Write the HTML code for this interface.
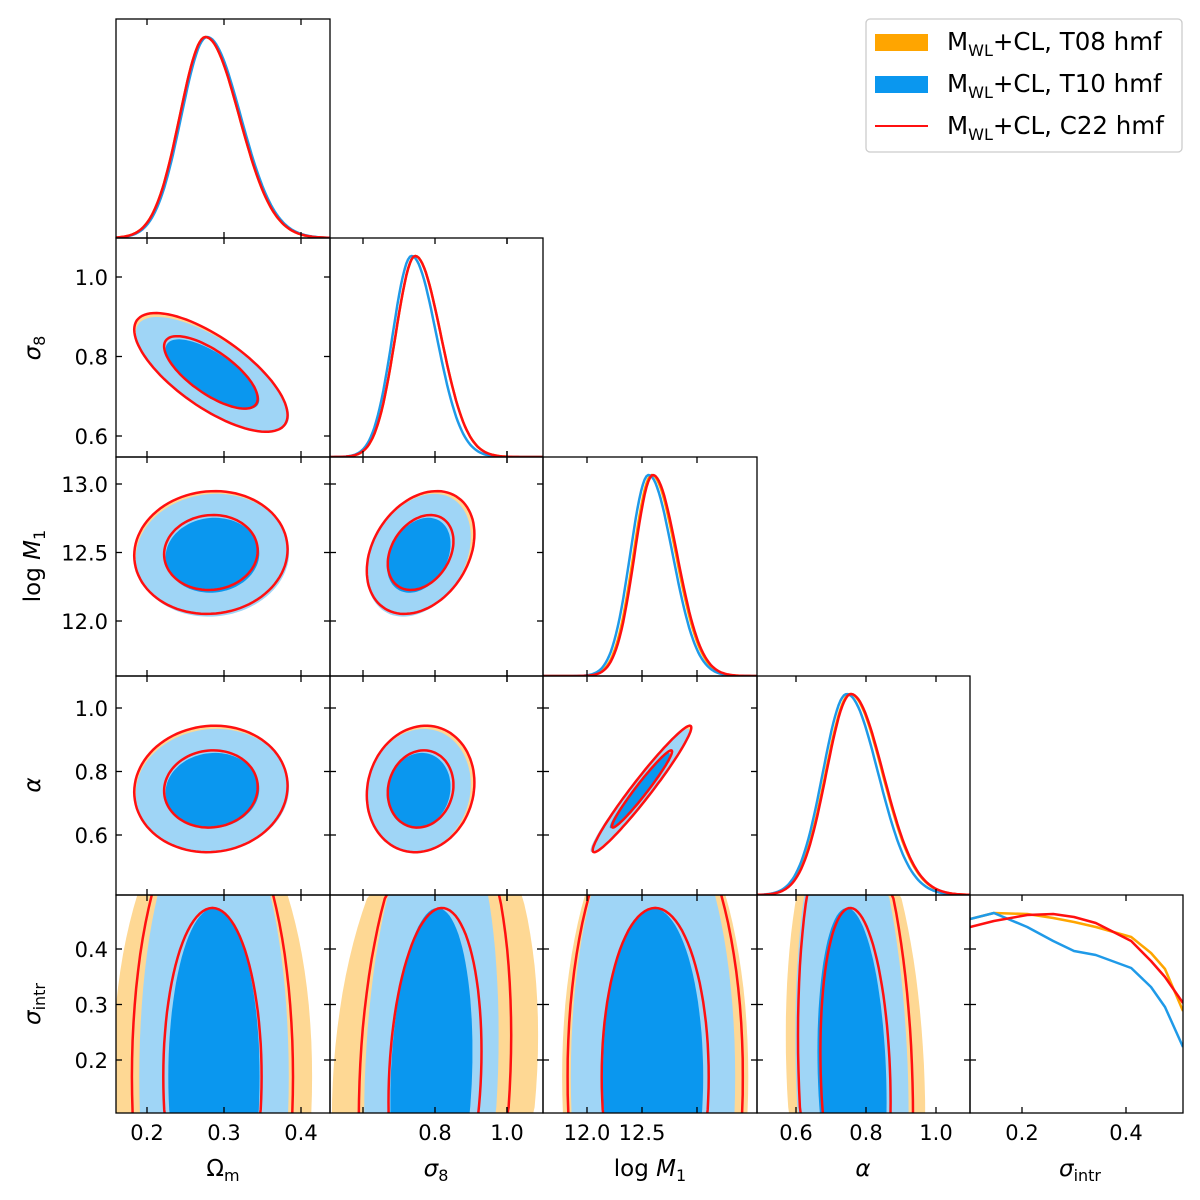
<!DOCTYPE html>
<html><head><meta charset="utf-8"><style>
html,body{margin:0;padding:0;background:#fff;width:1200px;height:1200px;overflow:hidden;position:relative}
svg{display:block;position:absolute;left:0;top:0}
svg text{font-family:"DejaVu Sans","Liberation Sans",sans-serif;fill:#000}
</style></head><body>
<svg id="fig" width="1200" height="1200" viewBox="0 0 1200 1200" xmlns="http://www.w3.org/2000/svg"></svg>
<script>
// ---- data ----
const paramNames = ['Om','s8','M1','al','si'];
const seriesNames = ['T08','T10','C22'];
// 2D contour centres
const muOm = [0.283, 0.285, 0.283];
const muS8 = [0.76, 0.755, 0.76];
const muM1 = [12.50, 12.48, 12.50];
const muAl = [0.745, 0.74, 0.745];
const muSi = [0.17, 0.17, 0.17];
const sdOm = [0.040, 0.040, 0.040];
const sdS8 = [0.060, 0.058, 0.060];
const sdM1 = [0.18, 0.18, 0.18];
const sdAl = [0.08, 0.078, 0.08];
const sdSi = [0.2, 0.2, 0.2];
// 1D marginal peaks / widths
const margMuOm = [0.276, 0.278, 0.276];
const margMuS8 = [0.745, 0.735, 0.745];
const margMuM1 = [12.59, 12.56, 12.60];
const margMuAl = [0.755, 0.745, 0.757];
const margSdOm = [0.038, 0.038, 0.038];
const margSdS8 = [0.062, 0.060, 0.062];
const margSdM1 = [0.19, 0.19, 0.19];
const margSdAl = [0.08, 0.078, 0.08];
// bottom-row (sigma_intr) widths / centres per column
const botMuOm=[0.285,0.287,0.285], botMuS8=[0.80,0.79,0.80], botMuM1=[12.62,12.60,12.62], botMuAl=[0.77,0.76,0.77];
const botSdOm=[0.052,0.039,0.042], botSdS8=[0.115,0.075,0.085], botSdM1=[0.34,0.30,0.32], botSdAl=[0.08,0.065,0.066];
// correlation per panel [col,row] and series
const pairCols = [0,0,1,0,1,2,0,1,2,3];
const pairRows = [1,2,2,3,3,3,4,4,4,4];
const rhoT08 = [-0.72,0.05,0.30,0.05,0.10,0.97,0,0.15,0,-0.15];
const rhoT10 = [-0.72,0.05,0.30,0.05,0.10,0.97,0,0.15,0,-0.15];
const rhoC22 = [-0.72,0.05,0.30,0.05,0.10,0.97,0,0.15,0,-0.15];
// sigma_intr marginal (sampled)
const siGrid = [0.1,0.146,0.21,0.26,0.30,0.342,0.41,0.448,0.475,0.517];
const siT08 = [0.97,1.0,0.995,0.975,0.955,0.93,0.88,0.80,0.72,0.51];
const siT10 = [0.97,1.0,0.93,0.86,0.81,0.79,0.725,0.63,0.53,0.33];
const siC22 = [0.93,0.96,0.99,0.995,0.98,0.95,0.86,0.76,0.68,0.55];
// axes
const colX0=[116,330,543,757,970], colX1=[330,543,757,970,1183];
const rowY0=[19,238,457,676,895], rowY1=[238,457,676,895,1113];
const xTickVals=[[0.2,0.3,0.4],[0.8,1.0],[12.0,12.5],[0.6,0.8,1.0],[0.2,0.4]];
const xTickLbls=[['0.2','0.3','0.4'],['0.8','1.0'],['12.0','12.5'],['0.6','0.8','1.0'],['0.2','0.4']];
const xTickMinor=[[],[0.6,1.0],[13.0],[],[]];
const yTickVals=[[],[0.6,0.8,1.0],[12.0,12.5,13.0],[0.6,0.8,1.0],[0.2,0.3,0.4]];
const yTickLbls=[[],['0.6','0.8','1.0'],['12.0','12.5','13.0'],['0.6','0.8','1.0'],['0.2','0.3','0.4']];
const xRef=[[0.2,147,0.3,224],[0.8,435,1.0,507],[12.0,587,12.5,642],[0.6,796,0.8,866],[0.2,1022,0.4,1126]];
const yRef=[[0,0,1,1],[1.0,277,0.6,436],[13.0,484,12.0,621],[1.0,708,0.6,835],[0.4,949,0.2,1060]];

const mus=[muOm,muS8,muM1,muAl,muSi], sds=[sdOm,sdS8,sdM1,sdAl,sdSi];
const margMu=[margMuOm,margMuS8,margMuM1,margMuAl], margSd=[margSdOm,margSdS8,margSdM1,margSdAl];
const botMu=[botMuOm,botMuS8,botMuM1,botMuAl], botSd=[botSdOm,botSdS8,botSdM1,botSdAl];
const rhos=[rhoT08,rhoT10,rhoC22];
const siCurves=[siT08,siT10,siC22];

const NS='http://www.w3.org/2000/svg', svg=document.getElementById('fig');
function mk(t,a,p){const e=document.createElementNS(NS,t);for(const k in a)e.setAttribute(k,a[k]);(p||svg).appendChild(e);return e;}
function xs(c,v){const r=xRef[c];return r[1]+(v-r[0])*(r[3]-r[1])/(r[2]-r[0]);}
function ys(r,v){const q=yRef[r];return q[1]+(v-q[0])*(q[3]-q[1])/(q[2]-q[0]);}
function clamp(v,a,b){return Math.max(a,Math.min(b,v));}
function fillCol(s,inner){return s===0?(inner?'#ffa500':'#fed894'):(inner?'#0a97ef':'#9fd5f6');}
const lineCol=['#ffa500','#1f9ae8','#ff1010'];

const defs=mk('defs',{});
for(let r=0;r<5;r++)for(let c=0;c<=r;c++){const cp=mk('clipPath',{id:'cp'+c+'_'+r},defs);mk('rect',{x:colX0[c],y:rowY0[r],width:colX1[c]-colX0[c],height:rowY1[r]-rowY0[r]},cp);}

function ellPath(c,r,cx,cy,sx,sy,rho,k){let d='';const q=Math.sqrt(1-rho*rho);
 for(let i=0;i<=96;i++){const t=i/96*2*Math.PI;const x=cx+k*sx*Math.cos(t),y=cy+k*sy*(rho*Math.cos(t)+q*Math.sin(t));
  const px=clamp(xs(c,x),colX0[c]-3,colX1[c]+3),py=clamp(ys(r,y),rowY0[r]-3,rowY1[r]+3);
  d+=(i?'L':'M')+px.toFixed(1)+','+py.toFixed(1);}return d+'Z';}

for(let p=0;p<pairCols.length;p++){
 const c=pairCols[p],r=pairRows[p];
 const g=mk('g',{'clip-path':'url(#cp'+c+'_'+r+')'});
 
 
 const layers=[];
 for(let s=0;s<3;s++){
  let cx,sx;
  if(r===4){cx=botMu[c][s];sx=botSd[c][s];}else{cx=mus[c][s];sx=sds[c][s];}
  const cy=mus[r][s],sy=sds[r][s],rho=rhos[s][p];
  layers.push([ellPath(c,r,cx,cy,sx,sy,rho,2.49),ellPath(c,r,cx,cy,sx,sy,rho,1.52)]);
 }
 for(let s=0;s<2;s++){
  const o=mk('path',{d:layers[s][0],fill:fillCol(s,false)},g);
  
  
  const i=mk('path',{d:layers[s][1],fill:fillCol(s,true)},g);
  
  
 }
 for(let k=0;k<2;k++){
  const l=mk('path',{d:layers[2][k],fill:'none',stroke:'#ff1010','stroke-width':2.5},g);
  
  
 }
}
function my(r,v){return rowY1[r]-v*(rowY1[r]-rowY0[r]-18);}
for(let c=0;c<5;c++){
 const g=mk('g',{'clip-path':'url(#cp'+c+'_'+c+')'});
 
 
 for(let s=0;s<3;s++){
  let d='';
  if(c<4){const m=margMu[c][s],sd=margSd[c][s];
   for(let i=0;i<=120;i++){const px=colX0[c]+i/120*(colX1[c]-colX0[c]);
    const v=xRef[c][0]+(px-xRef[c][1])*(xRef[c][2]-xRef[c][0])/(xRef[c][3]-xRef[c][1]);
    const z=(v-m)/(sd*(v>m?1.15:0.88));d+=(i?'L':'M')+px.toFixed(1)+','+my(c,Math.exp(-0.5*z*z)).toFixed(1);}
  }else{const cv=siCurves[s];for(let i=0;i<siGrid.length;i++)d+=(i?'L':'M')+clamp(xs(4,siGrid[i]),970,1183).toFixed(1)+','+my(4,cv[i]).toFixed(1);}
  const l=mk('path',{d:d,fill:'none',stroke:lineCol[s],'stroke-width':2.5,'stroke-linejoin':'round'},g);
  
  
 }
}
for(let r=0;r<5;r++)for(let c=0;c<=r;c++){
 const x0=colX0[c],x1=colX1[c],y0=rowY0[r],y1=rowY1[r];
 const f=mk('rect',{x:x0,y:y0,width:x1-x0,height:y1-y0,fill:'none',stroke:'#000','stroke-width':1.3});
 
 
 const xt=xTickVals[c].concat(xTickMinor[c]);
 xt.forEach(v=>{const x=xs(c,v);mk('line',{x1:x,x2:x,y1:y1,y2:y1-6,stroke:'#000','stroke-width':1.3});mk('line',{x1:x,x2:x,y1:y0,y2:y0+6,stroke:'#000','stroke-width':1.3});});
 if(r>c)yTickVals[r].forEach(v=>{const y=ys(r,v);mk('line',{x1:x0,x2:x0+6,y1:y,y2:y,stroke:'#000','stroke-width':1.3});mk('line',{x1:x1,x2:x1-6,y1:y,y2:y,stroke:'#000','stroke-width':1.3});});
 if(r===4&&c===4)yTickVals[4].forEach(v=>{const y=ys(4,v);mk('line',{x1:x0,x2:x0+6,y1:y,y2:y,stroke:'#000','stroke-width':1.3});});
}
for(let c=0;c<5;c++)xTickVals[c].forEach((v,i)=>{const t=mk('text',{x:xs(c,v),y:1140,'font-size':21,'text-anchor':'middle'});t.textContent=xTickLbls[c][i];
 
 });
for(let r=1;r<5;r++)yTickVals[r].forEach((v,i)=>{const t=mk('text',{x:108,y:ys(r,v)+8,'font-size':21,'text-anchor':'end'});t.textContent=yTickLbls[r][i];
 
 });
</script>
<svg width="1200" height="1200" xmlns="http://www.w3.org/2000/svg">
<g font-family="DejaVu Sans, Liberation Sans, sans-serif" font-size="23">
<text x="223" y="1176" text-anchor="middle">Ω<tspan font-size="16" dy="5">m</tspan></text>
<text x="436" y="1176" text-anchor="middle" font-style="italic">σ<tspan font-size="16" dy="5" font-style="normal">8</tspan></text>
<text x="650" y="1176" text-anchor="middle">log <tspan font-style="italic">M</tspan><tspan font-size="16" dy="5">1</tspan></text>
<text x="863" y="1176" text-anchor="middle" font-style="italic">α</text>
<text x="1080" y="1176" text-anchor="middle" font-style="italic">σ<tspan font-size="16" dy="5" font-style="normal">intr</tspan></text>
<text transform="translate(40,348) rotate(-90)" text-anchor="middle" font-style="italic">σ<tspan font-size="16" dy="5" font-style="normal">8</tspan></text>
<text transform="translate(40,566) rotate(-90)" text-anchor="middle">log <tspan font-style="italic">M</tspan><tspan font-size="16" dy="5">1</tspan></text>
<text transform="translate(40,785) rotate(-90)" text-anchor="middle" font-style="italic">α</text>
<text transform="translate(40,1004) rotate(-90)" text-anchor="middle" font-style="italic">σ<tspan font-size="16" dy="5" font-style="normal">intr</tspan></text>
</g>
<g font-family="DejaVu Sans, Liberation Sans, sans-serif" font-size="24.5">
<rect x="866" y="19" width="316" height="133" rx="4" fill="#fff" stroke="#ccc" stroke-width="1.3"/>
<rect x="875" y="34" width="53" height="17" fill="#ffa500"/>
<rect x="875" y="76" width="53" height="17" fill="#0a97ef"/>
<line x1="875" x2="928" y1="126" y2="126" stroke="#ff1010" stroke-width="2"/>
<text x="947" y="50">M<tspan font-size="16" dy="6">WL</tspan><tspan dy="-6">+CL, T08 hmf</tspan></text>
<text x="947" y="92">M<tspan font-size="16" dy="6">WL</tspan><tspan dy="-6">+CL, T10 hmf</tspan></text>
<text x="947" y="134">M<tspan font-size="16" dy="6">WL</tspan><tspan dy="-6">+CL, C22 hmf</tspan></text>
</g>
</svg>
</body></html>
